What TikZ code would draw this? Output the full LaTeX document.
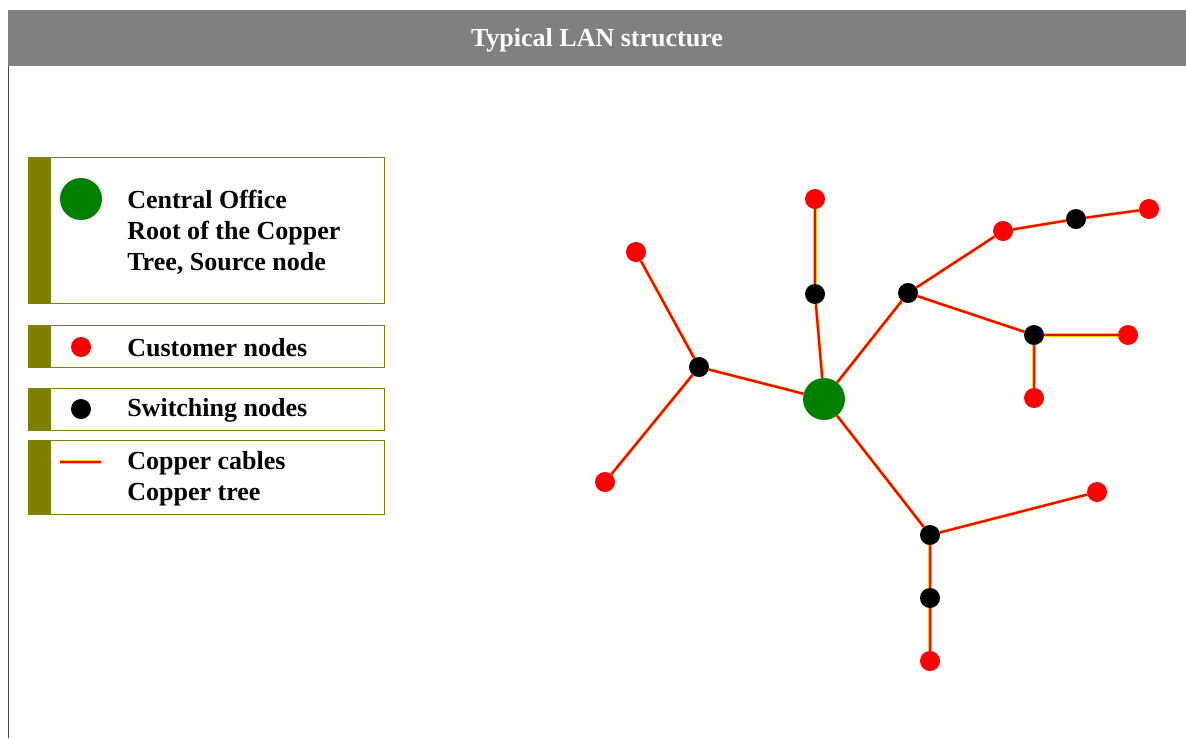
\documentclass[tikz,border=0pt]{standalone}
\usepackage{fontspec}
\setmainfont{Liberation Serif}
\usetikzlibrary{backgrounds}

\definecolor{headgray}{HTML}{808080}
\definecolor{olivebar}{HTML}{808000}
\definecolor{cogreen}{HTML}{008000}

\begin{document}
\begin{tikzpicture}[
    x=0.025cm, y=-0.025cm,
    every node/.style={font=\bfseries\fontsize{18.5}{22}\selectfont},
    central/.style={circle, fill=cogreen, inner sep=0pt, minimum size=1.05cm},
    customer/.style={circle, fill=red, inner sep=0pt, minimum size=0.5cm},
    switching/.style={circle, fill=black, inner sep=0pt, minimum size=0.5cm},
    cable/.style={draw=yellow!85!red, double=red, line width=0.3pt, double distance=1.6pt},
    legbox/.style={draw=olivebar, line width=0.6pt},
    legtext/.style={anchor=west, align=left, inner sep=0pt}
]
\useasboundingbox (0,0) rectangle (1186,738);

% --- Header ---
\fill[headgray] (8,10) rectangle (1186,66);
\draw[black!70, line width=0.5pt] (8,66) -- (8,738);
\node[text=white] (title) at (597,40) {Typical LAN structure};

% --- Legend ---
\fill[olivebar] (28,157) rectangle (51,303);
\draw[legbox] (28,157) rectangle (384,303);
\node[central] (legCO) at (81,199) {};
\node[legtext] (txtCO) at (127,232) {Central Office\\Root of the Copper\\Tree, Source node};

\fill[olivebar] (28,325) rectangle (51,367);
\draw[legbox] (28,325) rectangle (384,367);
\node[customer, minimum size=0.5cm] (legCust) at (81,347) {};
\node[legtext] (txtCust) at (127,348) {Customer nodes};

\fill[olivebar] (28,388) rectangle (51,430);
\draw[legbox] (28,388) rectangle (384,430);
\node[switching] (legSw) at (81,409) {};
\node[legtext] (txtSw) at (127,410) {Switching nodes};

\fill[olivebar] (28,440) rectangle (51,514);
\draw[legbox] (28,440) rectangle (384,514);
\coordinate (cabA) at (60,462);
\coordinate (cabB) at (101,462);
\draw[cable] (cabA) -- (cabB);
\node[legtext] (txtCab) at (127,479) {Copper cables\\Copper tree};

% --- Copper tree ---
\node[central] (CO) at (824,399) {};

\node[switching] (s1) at (699,367) {};
\node[switching] (s2) at (815,294) {};
\node[switching] (s3) at (908,293) {};
\node[switching] (s4) at (1034,335) {};
\node[switching] (s5) at (1076,219) {};
\node[switching] (s6) at (930,535) {};
\node[switching] (s7) at (930,598) {};

\node[customer] (c1) at (636,252) {};
\node[customer] (c2) at (605,482) {};
\node[customer] (c3) at (815,199) {};
\node[customer] (c4) at (1003,231) {};
\node[customer] (c5) at (1149,209) {};
\node[customer] (c6) at (1128,335) {};
\node[customer] (c7) at (1034,398) {};
\node[customer] (c8) at (1097,492) {};
\node[customer] (c9) at (930,661) {};

% cables go under the nodes
\begin{scope}[on background layer]
\draw[cable] (CO) -- (s1);
\draw[cable] (s1) -- (c1);
\draw[cable] (s1) -- (c2);
\draw[cable] (CO) -- (s2);
\draw[cable] (s2) -- (c3);
\draw[cable] (CO) -- (s3);
\draw[cable] (s3) -- (c4);
\draw[cable] (c4) -- (s5);
\draw[cable] (s5) -- (c5);
\draw[cable] (s3) -- (s4);
\draw[cable] (s4) -- (c6);
\draw[cable] (s4) -- (c7);
\draw[cable] (CO) -- (s6);
\draw[cable] (s6) -- (c8);
\draw[cable] (s6) -- (s7);
\draw[cable] (s7) -- (c9);
\end{scope}

\end{tikzpicture}
\end{document}
